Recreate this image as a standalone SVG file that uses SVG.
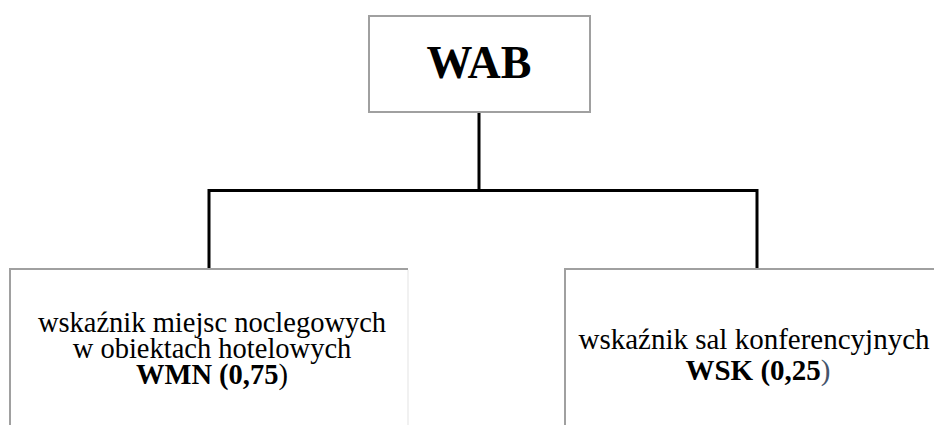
<svg xmlns="http://www.w3.org/2000/svg" width="934" height="425" viewBox="0 0 934 425">
<style>
.box{fill:#ffffff;stroke:#a0a0a0;stroke-width:2}
.edge{stroke:#a0a0a0;stroke-width:2;fill:none}
.faint{stroke:#ececec;stroke-width:1.5;fill:none}
.conn{stroke:#000000;stroke-width:3;fill:none}
text{font-family:"Liberation Serif","Times New Roman",serif;fill:#000000}
.t{font-size:28.5px}
.t2{font-size:29px}
.b{font-weight:bold}
</style>
<rect width="934" height="425" fill="#ffffff"/>
<g id="connectors">
<path class="conn" d="M479 112 V190.5 M209 190.5 H757 M209 189 V269 M757 189 V269"/>
</g>
<g id="node-wab">
<rect class="box" x="369" y="16" width="221" height="96"/>
<text x="479" y="78" text-anchor="middle" font-size="46" class="b">WAB</text>
</g>
<g id="node-wmn">
<rect x="10" y="269" width="398" height="170" fill="#ffffff"/>
<path class="edge" d="M10 425 V269 H408"/>
<path class="faint" d="M408 270 V425"/>
<text class="t" text-anchor="middle" x="212" y="332">wskaźnik miejsc noclegowych</text>
<text class="t" text-anchor="middle" x="212" y="358">w obiektach hotelowych</text>
<text class="t" text-anchor="middle" x="212" y="384"><tspan class="b">WMN (0,75</tspan>)</text>
</g>
<g id="node-wsk">
<rect x="565" y="269" width="380" height="170" fill="#ffffff"/>
<path class="edge" d="M565 425 V269 H934"/>
<text class="t2" text-anchor="middle" x="754" y="349">wskaźnik sal konferencyjnych</text>
<text class="t2" text-anchor="middle" x="758" y="380"><tspan class="b">WSK (0,25</tspan><tspan fill="#44546a">)</tspan></text>
</g>
</svg>
